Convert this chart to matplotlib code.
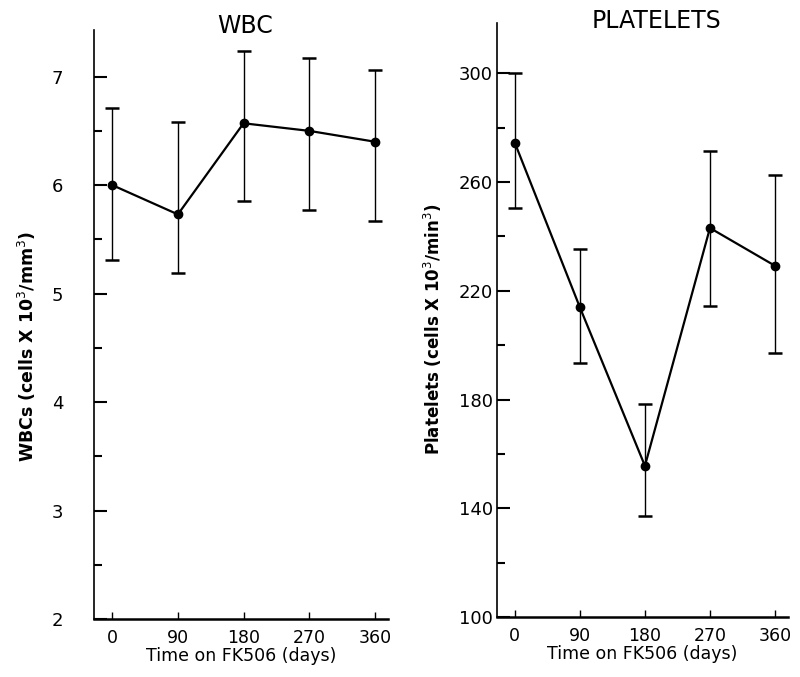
import matplotlib.pyplot as plt
import numpy as np

# time points (days on FK506)
days = [0, 90, 180, 270, 360]

# WBC (cells x 10^3 / mm^3): mean, upper and lower ends of error bars
wbc_mean = [6.00, 5.73, 6.57, 6.50, 6.40]
wbc_upper = [6.71, 6.58, 7.24, 7.17, 7.06]
wbc_lower = [5.31, 5.19, 5.85, 5.77, 5.67]

# Platelets (cells x 10^3 / mm^3)
plt_mean = [274.4, 213.9, 155.6, 243.1, 229.2]
plt_upper = [300.0, 235.2, 178.2, 271.4, 262.6]
plt_lower = [250.3, 193.3, 137.0, 214.4, 197.2]

x_ticks = [0, 90, 180, 270, 360]
wbc_ticks = [2, 3, 4, 5, 6, 7]
wbc_minor = [2.5, 3.5, 4.5, 5.5, 6.5]
plt_ticks = [100, 140, 180, 220, 260, 300]
plt_minor = [120, 160, 200, 240, 280]

fig = plt.figure(figsize=(8.0, 6.77), dpi=100)
ax1 = fig.add_axes([0.1175, 0.0857, 0.3675, 0.870])
ax2 = fig.add_axes([0.621, 0.0886, 0.364, 0.877])


def draw_panel(ax, mean, upper, lower):
    mean = np.array(mean)
    yerr = [mean - np.array(lower), np.array(upper) - mean]
    ax.errorbar(days, mean, yerr=yerr, fmt='none', ecolor='black',
                elinewidth=1.0, capsize=5, capthick=1.8)
    ax.plot(days, mean, color='black', linewidth=1.6, marker='o',
            markersize=6)
    for side in ['top', 'right']:
        ax.spines[side].set_visible(False)
    ax.spines['left'].set_linewidth(1.2)
    ax.spines['bottom'].set_linewidth(1.8)
    ax.set_xlim(-25, 378)
    ax.set_xticks(x_ticks)
    ax.tick_params(axis='x', direction='in', length=5, width=1, pad=7,
                   labelsize=12.5)
    ax.set_xlabel('Time on FK506 (days)', fontsize=12.5, labelpad=0)


draw_panel(ax1, wbc_mean, wbc_upper, wbc_lower)
ax1.set_ylim(2, 7.43)
ax1.set_yticks(wbc_ticks)
ax1.set_yticks(wbc_minor, minor=True)
ax1.tick_params(axis='y', which='major', direction='in', length=9, width=1.5,
                pad=22, labelsize=13)
ax1.tick_params(axis='y', which='minor', direction='in', length=6, width=1.5)
ax1.set_ylabel('WBCs (cells X 10$^3$/mm$^3$)', fontsize=12.5, fontweight='bold')
ax1.yaxis.set_label_coords(-0.19, 0.462)

draw_panel(ax2, plt_mean, plt_upper, plt_lower)
ax2.set_ylim(100, 318.4)
ax2.set_yticks(plt_ticks)
ax2.set_yticks(plt_minor, minor=True)
ax2.tick_params(axis='y', which='major', direction='in', length=9, width=1.5,
                pad=3, labelsize=13)
ax2.tick_params(axis='y', which='minor', direction='in', length=6, width=1.5)
ax2.set_ylabel('Platelets (cells X 10$^3$/min$^3$)', fontsize=12,
               fontweight='bold')
ax2.yaxis.set_label_coords(-0.18, 0.485)

# panel titles sit beside the top of each axis
fig.text(245 / 800, 1 - 26 / 677, 'WBC', fontsize=17, ha='center', va='center')
fig.text(657 / 800, 1 - 21 / 677, 'PLATELETS', fontsize=17, ha='center',
         va='center')

fig.savefig('out.png', dpi=100)
